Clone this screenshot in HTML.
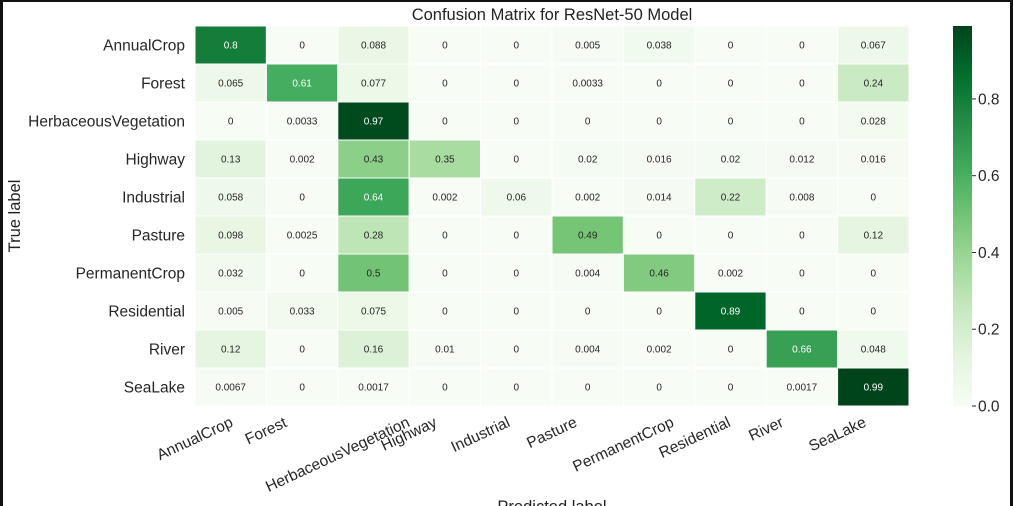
<!DOCTYPE html>
<html><head><meta charset="utf-8">
<style>
html,body{margin:0;padding:0;background:#fff;}
#wrap{position:relative;width:1013px;height:506px;overflow:hidden;background:#fff;}
svg{position:absolute;left:0;top:0;font-family:"Liberation Sans",Arial,sans-serif;}
</style></head>
<body>
<div id="wrap">
<svg id="chart" width="1013" height="506"></svg>
</div>
<script>
const labels = ["AnnualCrop","Forest","HerbaceousVegetation","Highway","Industrial","Pasture","PermanentCrop","Residential","River","SeaLake"];
const row0 = [0.8,0,0.088,0,0,0.005,0.038,0,0,0.067];
const row1 = [0.065,0.61,0.077,0,0,0.0033,0,0,0,0.24];
const row2 = [0,0.0033,0.97,0,0,0,0,0,0,0.028];
const row3 = [0.13,0.002,0.43,0.35,0,0.02,0.016,0.02,0.012,0.016];
const row4 = [0.058,0,0.64,0.002,0.06,0.002,0.014,0.22,0.008,0];
const row5 = [0.098,0.0025,0.28,0,0,0.49,0,0,0,0.12];
const row6 = [0.032,0,0.5,0,0,0.004,0.46,0.002,0,0];
const row7 = [0.005,0.033,0.075,0,0,0,0,0.89,0,0];
const row8 = [0.12,0,0.16,0.01,0,0.004,0.002,0,0.66,0.048];
const row9 = [0.0067,0,0.0017,0,0,0,0,0,0.0017,0.99];
const matrix = [row0,row1,row2,row3,row4,row5,row6,row7,row8,row9];
const cbTicks = [0.0,0.2,0.4,0.6,0.8];

const NS="http://www.w3.org/2000/svg";
const svg=document.getElementById('chart');
function mk(t,a,p){const e=document.createElementNS(NS,t);for(const k in a)e.setAttribute(k,a[k]);(p||svg).appendChild(e);return e;}
const stops=["#f7fcf5","#e5f5e0","#c7e9c0","#a1d99b","#74c476","#41ab5d","#238b45","#006d2c","#00441b"];
function hex(h){return [1,3,5].map(i=>parseInt(h.substr(i,2),16));}
const vmax=0.99;
function color(v){let t=Math.max(0,Math.min(1,v/vmax))*(stops.length-1);let i=Math.min(Math.floor(t),stops.length-2);let f=t-i;const a=hex(stops[i]),b=hex(stops[i+1]);return "rgb("+a.map((x,k)=>Math.round(x+(b[k]-x)*f)).join(",")+")";}
const X0=195,Y0=26,W=714,H=380,n=labels.length;
const cw=W/n,ch=H/n;
const xs=j=>X0+j*cw, ys=i=>Y0+i*ch;

mk('rect',{x:0,y:0,width:1013,height:2,fill:'#111'});
mk('rect',{x:0,y:0,width:3,height:506,fill:'#111'});
mk('rect',{x:1010,y:0,width:3,height:506,fill:'#111'});

const title=mk('text',{x:552,y:20,'text-anchor':'middle','font-size':16.5,fill:'#222'});
title.textContent="Confusion Matrix for ResNet-50 Model";



for(let i=0;i<n;i++){for(let j=0;j<n;j++){
  const v=matrix[i][j];
  const r=mk('rect',{x:xs(j),y:ys(i),width:cw,height:ch,fill:color(v),stroke:'#fff','stroke-width':1});
  
  
  const t=mk('text',{x:xs(j)+cw/2,y:ys(i)+ch/2+3.5,'text-anchor':'middle','font-size':10,fill:(v>0.55?'#fff':'#262626')});
  t.textContent=String(v);
  
  
}}
for(let i=0;i<n;i++){
  const t=mk('text',{x:X0-10,y:ys(i)+ch/2+5.5,'text-anchor':'end','font-size':15.5,fill:'#262626'});
  t.textContent=labels[i];
  
  
}
const XL_TOP=414;
for(let j=0;j<n;j++){
  const g=mk('g',{});
  
  
  const t=mk('text',{x:0,y:0,'text-anchor':'middle','font-size':15.5,fill:'#262626',transform:'rotate(-25)'},g);
  t.textContent=labels[j];
  
  
  const bb=g.getBBox();
  const cx=xs(j);
  g.setAttribute('transform','translate('+(cx-(bb.x+bb.width/2))+','+(XL_TOP-bb.y)+')');
}
const yl=mk('text',{x:20,y:Y0+H/2,'text-anchor':'middle','font-size':16.5,fill:'#222',transform:'rotate(-90 20 '+(Y0+H/2)+')'});
yl.textContent="True label";


const xl=mk('text',{x:552,y:512,'text-anchor':'middle','font-size':16.5,fill:'#222'});
xl.textContent="Predicted label";



const CBX=953,CBW=19;
const defs=mk('defs',{});
const g=mk('linearGradient',{id:'cbg',x1:0,y1:1,x2:0,y2:0},defs);
stops.forEach((s,k)=>mk('stop',{offset:k/(stops.length-1),'stop-color':s},g));
const cb=mk('rect',{x:CBX,y:Y0,width:CBW,height:H,fill:'url(#cbg)'});


const cy=v=>Y0+H-v/vmax*H;
cbTicks.forEach(v=>{
  mk('line',{x1:CBX+CBW,x2:CBX+CBW+4,y1:cy(v),y2:cy(v),stroke:'#262626','stroke-width':1});
  const t=mk('text',{x:CBX+CBW+6,y:cy(v)+5.5,'font-size':15.5,fill:'#262626'});
  t.textContent=v.toFixed(1);
  
  
});
</script>
</body></html>
